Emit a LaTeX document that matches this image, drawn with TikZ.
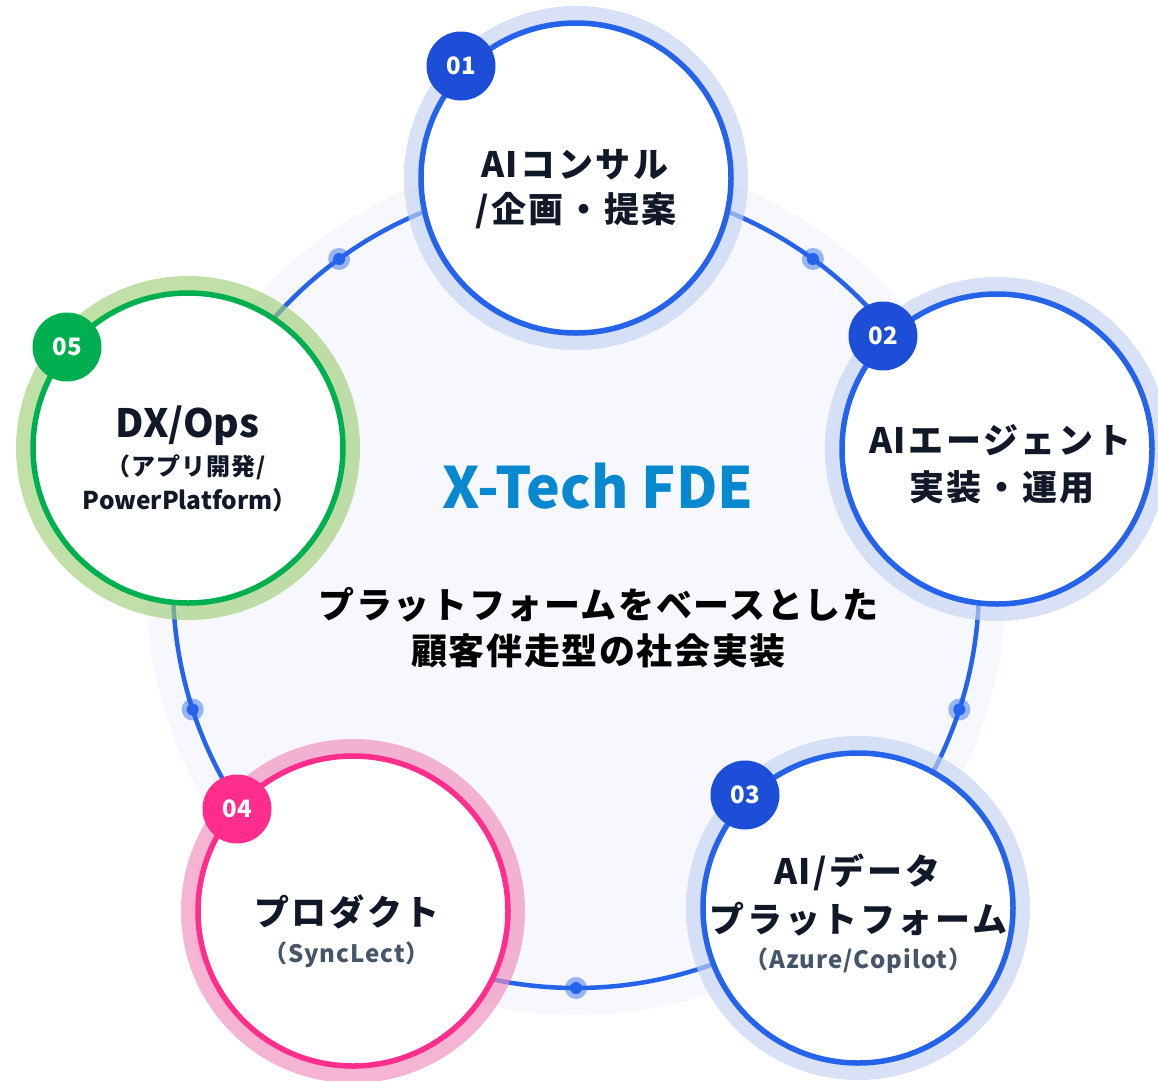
\documentclass[tikz,border=0pt]{standalone}
\usepackage{fontspec}
\setmainfont{Noto Sans CJK JP}
\newfontfamily\trackT[LetterSpace=7.5]{Noto Sans CJK JP}
\newfontfamily\trackS[LetterSpace=4.5]{Noto Sans CJK JP}
\newfontfamily\trackU[LetterSpace=4]{Noto Sans CJK JP}
\newfontfamily\plainAI{Noto Sans CJK JP}
\newcommand{\tightAI}{{\plainAI\bfseries A\kern1bp I\kern2.5bp}}
\definecolor{ink}{RGB}{17,24,39}
\definecolor{slate}{RGB}{71,85,105}
\definecolor{ringblue}{RGB}{37,99,235}
\definecolor{badgeblue}{RGB}{29,78,216}
\definecolor{fgreen}{RGB}{0,176,80}
\definecolor{fpink}{RGB}{255,45,139}
\definecolor{bgdisk}{RGB}{246,248,253}
\definecolor{brand}{RGB}{8,136,206}
\definecolor{haloBa}{RGB}{196,210,242}
\definecolor{haloBb}{RGB}{212,222,246}
\definecolor{haloGa}{RGB}{160,208,120}
\definecolor{haloGb}{RGB}{176,218,134}
\definecolor{haloPa}{RGB}{240,140,185}
\definecolor{haloPb}{RGB}{245,152,196}
\pgfdeclareradialshading{haloB}{\pgfpoint{0bp}{0bp}}{color(0bp)=(haloBa); color(45bp)=(haloBa); color(47.5bp)=(haloBb); color(50bp)=(haloBb)}
\pgfdeclareradialshading{haloG}{\pgfpoint{0bp}{0bp}}{color(0bp)=(haloGa); color(45bp)=(haloGa); color(47.5bp)=(haloGb); color(50bp)=(haloGb)}
\pgfdeclareradialshading{haloP}{\pgfpoint{0bp}{0bp}}{color(0bp)=(haloPa); color(45bp)=(haloPa); color(47.5bp)=(haloPb); color(50bp)=(haloPb)}
\begin{document}
\begin{tikzpicture}[x=1bp,y=-1bp,
  halo/.style={circle, minimum size=344bp, inner sep=0, opacity=0.65},
  stage/.style={circle, minimum size=310bp, inner sep=0, fill=white, line width=5.5bp},
  badge/.style={circle, minimum size=69bp, inner sep=0, text=white, font=\bfseries\fontsize{24bp}{24bp}\selectfont},
  dotglow/.style={circle, minimum size=22bp, inner sep=0, fill=ringblue, fill opacity=0.45},
  dotcore/.style={circle, minimum size=12bp, inner sep=0, fill=ringblue},
  ttl/.style={inner sep=0, text=ink, font=\trackT\bfseries\fontsize{35bp}{35bp}\selectfont},
  sub/.style={inner sep=0, text=ink, font=\trackU\bfseries\fontsize{24bp}{24bp}\selectfont},
  subgray/.style={inner sep=0, text=slate, font=\trackU\bfseries\fontsize{24bp}{24bp}\selectfont},
  lead/.style={inner sep=0, text=black, font=\trackS\bfseries\fontsize{36bp}{36bp}\selectfont},
]
\useasboundingbox (0,0) rectangle (1158,1081);
\fill[white] (0,0) rectangle (1158,1081);
% background disk and ring
\coordinate (ctr) at (576,585);
\fill[bgdisk] (ctr) circle[radius=430];
\draw[ringblue, line width=4.5bp] (ctr) circle[radius=403];
% ring dots
\node[dotglow] (g1) at (339.1,259) {};   \node[dotcore] (d1) at (339.1,259) {};
\node[dotglow] (g2) at (812.9,259) {};   \node[dotcore] (d2) at (812.9,259) {};
\node[dotglow] (g3) at (959.3,709.5) {}; \node[dotcore] (d3) at (959.3,709.5) {};
\node[dotglow] (g4) at (576,988) {};     \node[dotcore] (d4) at (576,988) {};
\node[dotglow] (g5) at (192.7,709.5) {}; \node[dotcore] (d5) at (192.7,709.5) {};
% halos
\node[halo, shading=haloB] (h1) at (576,178) {};
\node[halo, shading=haloB] (h2) at (997,449) {};
\node[halo, shading=haloB] (h3) at (858,908) {};
\node[halo, shading=haloP] (h4) at (353,911) {};
\node[halo, shading=haloG] (h5) at (188,448) {};
% stage circles
\node[stage, draw=ringblue] (c1) at (576,178) {};
\node[stage, draw=ringblue] (c2) at (997,449) {};
\node[stage, draw=ringblue] (c3) at (858,908) {};
\node[stage, draw=fpink] (c4) at (353,911) {};
\node[stage, draw=fgreen] (c5) at (188,448) {};
% badges
\node[badge, fill=badgeblue] (b1) at (461,66) {01};
\node[badge, fill=badgeblue] (b2) at (883,336) {02};
\node[badge, fill=badgeblue] (b3) at (745,795) {03};
\node[badge, fill=fpink] (b4) at (237,809) {04};
\node[badge, fill=fgreen] (b5) at (67,347) {05};
% texts
\node[ttl] (t1a) at (575,164.5) {\tightAI コンサル};
\node[ttl] (t1b) at (576,211) {/企画・提案};
\node[ttl] (t2a) at (1000.5,440) {\tightAI エージェント};
\node[ttl] (t2b) at (1002,487) {実装・運用};
\node[ttl] (t3a) at (857.5,872) {\tightAI /データ};
\node[ttl] (t3b) at (858.5,919) {プラットフォーム};
\node[subgray] (t3c) at (858.5,961) {（Azure/Copilot）};
\node[ttl] (t4a) at (347,912) {プロダクト};
\node[subgray] (t4b) at (346.5,954.5) {（SyncLect）};
\node[inner sep=0, text=ink, font=\bfseries\fontsize{39bp}{39bp}\selectfont] (t5a) at (187.5,425.5) {DX/Ops};
\node[sub] (t5b) at (186,467.5) {（アプリ開発/};
\node[inner sep=0, text=ink, font=\bfseries\fontsize{24.5bp}{24.5bp}\selectfont] (t5c) at (190,500) {PowerPlatform）};
\node[inner sep=0, text=brand, font=\bfseries\fontsize{57bp}{57bp}\selectfont] (brandt) at (598,486) {X-Tech FDE};
\node[lead] (s1) at (598.5,605) {プラットフォームをベースとした};
\node[lead] (s2) at (598.5,651) {顧客伴走型の社会実装};
\end{tikzpicture}
\end{document}
